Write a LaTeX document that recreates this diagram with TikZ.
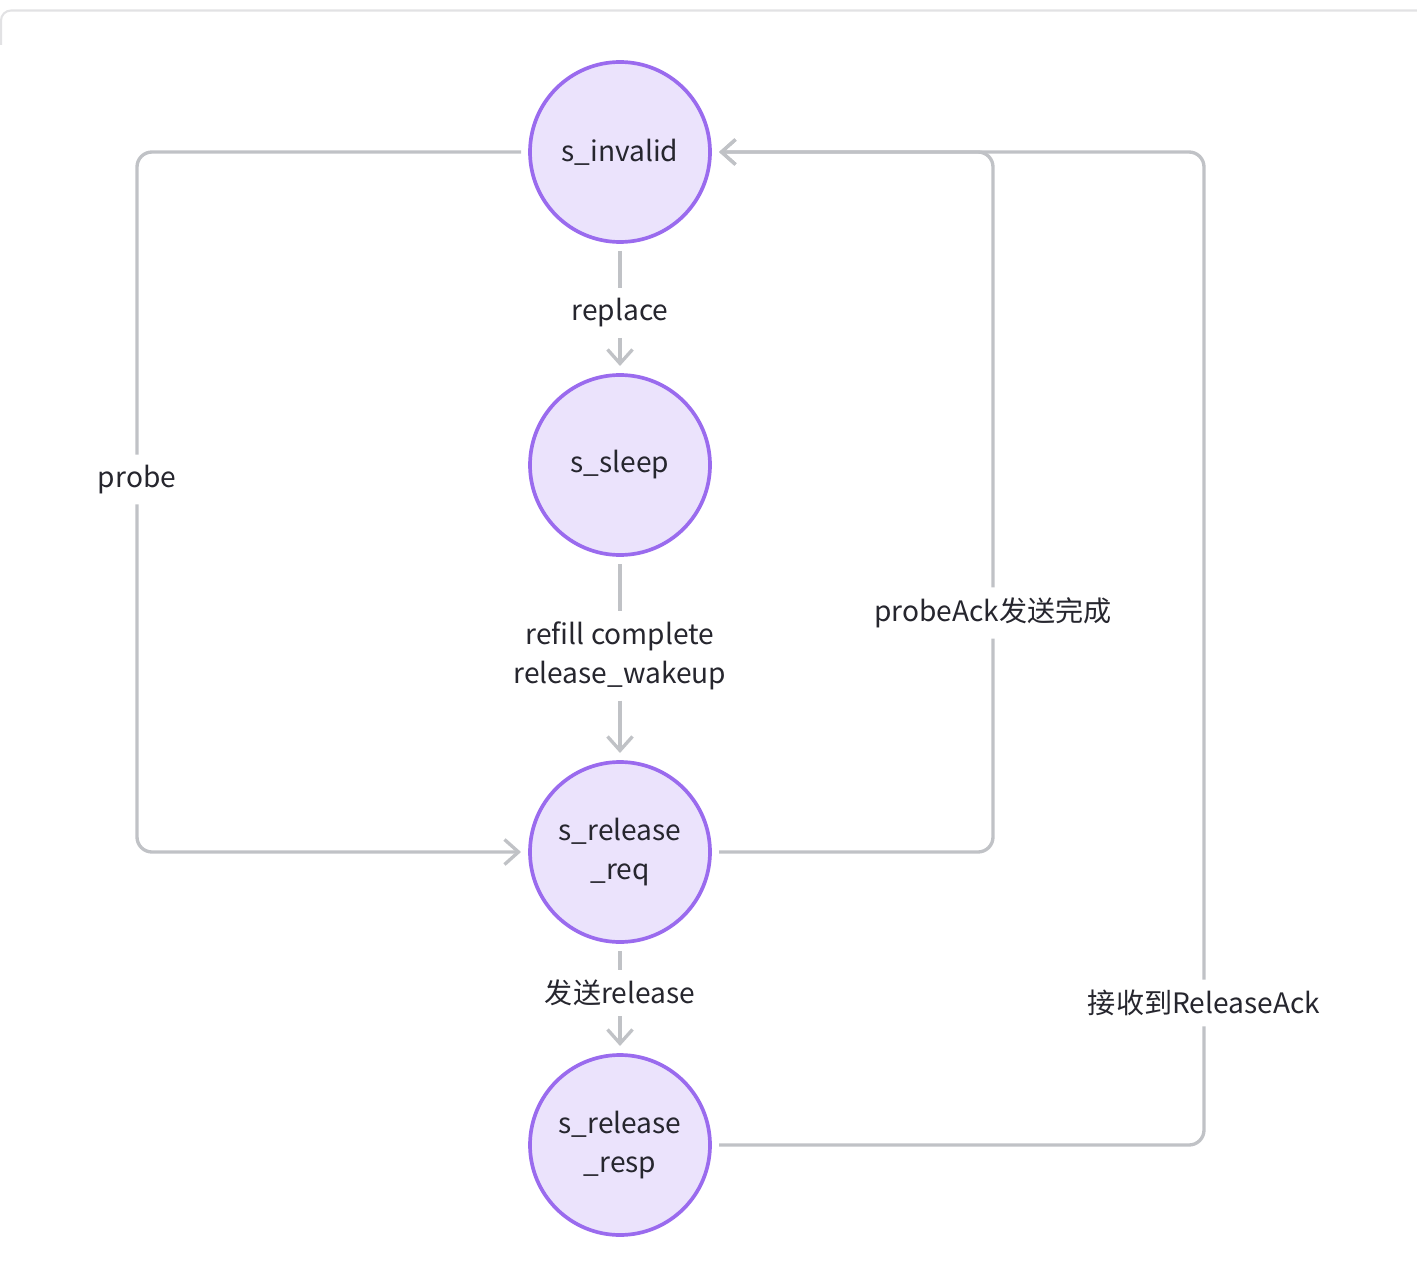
\documentclass[tikz,border=0pt]{standalone}
\usepackage{fontspec}
\newfontfamily\cjk{Noto Sans CJK SC}
\usetikzlibrary{positioning,arrows.meta}
\definecolor{statefill}{HTML}{EBE3FC}
\definecolor{stateline}{HTML}{9A6BEE}
\definecolor{linkgray}{HTML}{C0C2C6}
\definecolor{textdark}{HTML}{26262E}
\definecolor{framegray}{HTML}{E2E2E4}
\tikzset{st/.style={circle, draw=stateline, fill=statefill, line width=2.1pt, minimum size=3.6cm, align=center, outer sep=0.18cm, text=textdark, font=\cjk\fontsize{16}{22.5}\selectfont}}
\tikzset{lbl/.style={fill=white, inner sep=0.2cm, align=center, text=textdark, font=\cjk\fontsize{16}{22.5}\selectfont}}
\tikzset{ln/.style={draw=linkgray, line width=1.9pt, rounded corners=0.3cm}}
\tikzset{arr/.style={ln, -{Straight Barb[length=0.28cm, width=0.5cm]}}}
\begin{document}
\begin{tikzpicture}[]
    \useasboundingbox (0,0) rectangle (28.34,-25.32);
    \draw[draw=framegray, line width=1.2pt, rounded corners=0.2cm] (0.02,-0.9) |- (28.4,-0.21);

    \node[st] (inv) at (12.4,-3.04) {s\_invalid};
    \node[st] (sleep) at ([yshift=-6.26cm] inv) {s\_sleep};
    \node[st] (req) at ([yshift=-14cm] inv) {s\_release\\\_req};
    \node[st] (resp) at ([yshift=-19.86cm] inv) {s\_release\\\_resp};

    \node[lbl] (replace) at ([yshift=-3.22cm] inv) {replace};
    \node[lbl] (refill) at ([yshift=-10.08cm] inv) {refill complete\\release\_wakeup};
    \node[lbl] (send) at ([yshift=-16.82cm] inv) {发送release};
    \node[lbl] (probe) at ([xshift=-9.66cm, yshift=-6.55cm] inv) {probe};
    \node[lbl] (pack) at ([xshift=7.46cm, yshift=-9.22cm] inv) {probeAck发送完成};
    \node[lbl] (rack) at ([xshift=11.68cm, yshift=-17.02cm] inv) {接收到ReleaseAck};

    \draw[ln] (inv) -- (replace);
    \draw[arr] (replace) -- (sleep);
    \draw[ln] (sleep) -- (refill);
    \draw[arr] (refill) -- (req);
    \draw[ln] (req) -- (send);
    \draw[arr] (send) -- (resp);

    \draw[ln] (inv.west) -| (probe);
    \draw[arr] (probe) |- (req.west);

    \draw[ln] (req.east) -| (pack);
    \draw[arr] (pack) |- (inv.east);

    \draw[ln] (resp.east) -| (rack);
    \draw[arr] (rack) |- (inv.east);
\end{tikzpicture}
\end{document}
